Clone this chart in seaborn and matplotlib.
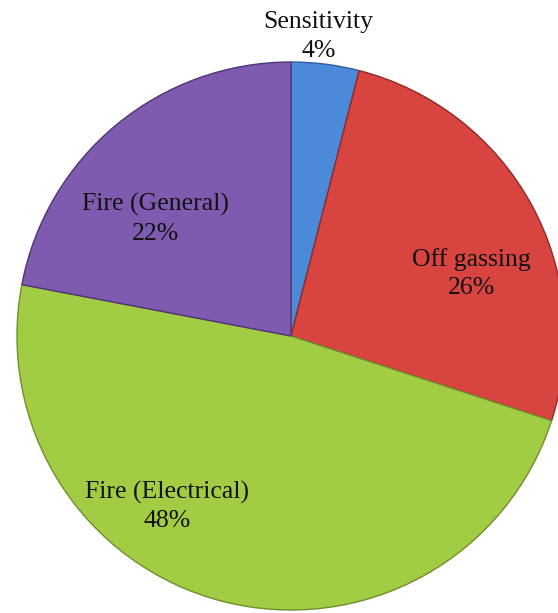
import matplotlib
matplotlib.use("Agg")
import matplotlib.pyplot as plt
import seaborn as sns

sns.set_theme(style="white")
plt.rcParams['font.family'] = ['Liberation Serif', 'DejaVu Serif']

categories = ["Sensitivity", "Off gassing", "Fire (Electrical)", "Fire (General)"]
values = [4, 26, 48, 22]
colors = ["#4a8ad8", "#d8443f", "#a3cc45", "#7e5bae"]
edge_colors = ["#2f5f9e", "#8f2a26", "#6f8f2a", "#4f3577"]

# label anchor positions (layout, in pie-radius units)
label_pos = [(0.10, 1.093), (0.657, 0.228), (-0.453, -0.622), (-0.493, 0.428)]

fig = plt.figure(figsize=(5.58, 6.13), dpi=100)
ax = fig.add_axes([17/558, 3/613, 548/558, 548/613])
wedges, _ = ax.pie(values, colors=colors, startangle=90, counterclock=False,
                   radius=1.0, wedgeprops=dict(linewidth=1.0))
for w, ec in zip(wedges, edge_colors):
    w.set_edgecolor(ec)
ax.set_xlim(-1, 1)
ax.set_ylim(-1, 1)
ax.set_aspect('equal')
ax.axis('off')

for name, v, (x, y) in zip(categories, values, label_pos):
    ax.text(x, y, f"{name}\n{v}%", ha='center', va='center', fontsize=18.5,
            color='#111111', linespacing=1.38, clip_on=False)

fig.savefig("out.png", dpi=100)
